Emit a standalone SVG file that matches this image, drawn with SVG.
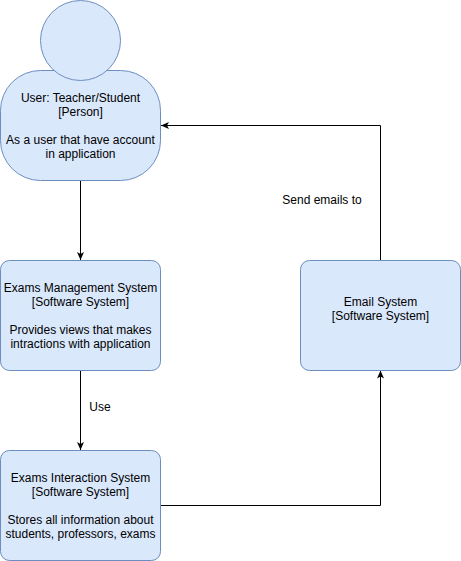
<svg xmlns="http://www.w3.org/2000/svg" width="461" height="561" viewBox="0 0 461 561">
<defs>
<style>
.n{fill:#dae8fc;stroke:#6c8ebf;stroke-width:1}
.c{fill:none;stroke:#000;stroke-width:1}
text{font-family:"Liberation Sans",Arial,sans-serif;font-size:12px;fill:#000;text-anchor:middle}
</style>
<marker id="a" markerUnits="userSpaceOnUse" markerWidth="9" markerHeight="8" refX="8" refY="3.500" orient="auto"><path d="M0 0L8 3.500L0 7L2 3.500Z" fill="#000"/></marker>
</defs>
<rect width="461" height="561" fill="#fff"/>
<g id="connectors">
<path class="c" d="M80.500 180.500V260" marker-end="url(#a)"/>
<path class="c" d="M80.500 370.500V450" marker-end="url(#a)"/>
<path class="c" d="M160.500 505.500H380.500V370.500" marker-end="url(#a)"/>
<path class="c" d="M380.500 260.500V125.500H161" marker-end="url(#a)"/>
</g>
<g id="user">
<rect class="n" x="0.500" y="70.500" width="160" height="110" rx="40" ry="40"/>
<circle class="n" cx="80.500" cy="40.500" r="40"/>
<text x="80.500" y="102">User: Teacher/Student</text>
<text x="80.500" y="116">[Person]</text>
<text x="80.500" y="144">As a user that have account</text>
<text x="80.500" y="158">in application</text>
</g>
<g id="exams-management">
<rect class="n" x="0.500" y="260.500" width="160" height="110" rx="9" ry="9"/>
<text x="80.500" y="292">Exams Management System</text>
<text x="80.500" y="306">[Software System]</text>
<text x="80.500" y="334">Provides views that makes</text>
<text x="80.500" y="348">intractions with application</text>
</g>
<g id="exams-interaction">
<rect class="n" x="0.500" y="450.500" width="160" height="110" rx="9" ry="9"/>
<text x="80.500" y="482">Exams Interaction System</text>
<text x="80.500" y="496">[Software System]</text>
<text x="80.500" y="524">Stores all information about</text>
<text x="80.500" y="538">students, professors, exams</text>
</g>
<g id="email">
<rect class="n" x="300.500" y="260.500" width="160" height="110" rx="9" ry="9"/>
<text x="380.500" y="306">Email System</text>
<text x="380.500" y="320">[Software System]</text>
</g>
<g id="labels">
<text x="100" y="411">Use</text>
<text x="322" y="204">Send emails to</text>
</g>
</svg>
